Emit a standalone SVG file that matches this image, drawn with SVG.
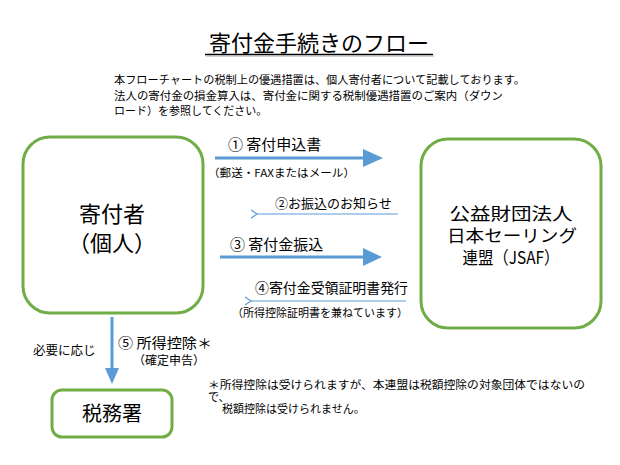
<svg xmlns="http://www.w3.org/2000/svg" width="620" height="465" viewBox="0 0 620 465">
<style>
text{font-family:"Noto Sans CJK JP","Noto Sans",sans-serif;fill:#000}
.box{fill:#fff;stroke:#70ad47;stroke-width:3}
.thick{stroke:#5b9bd5;stroke-width:3;fill:none}
.thin{stroke:#5b9bd5;stroke-width:1;fill:none}
.head{fill:#5b9bd5}
</style>
<defs>
<marker id="open" markerWidth="8" markerHeight="10" refX="1" refY="5" orient="auto-start-reverse" markerUnits="userSpaceOnUse">
<path d="M7,1 L1,5 L7,9" fill="none" stroke="#5b9bd5" stroke-width="1.2"/>
</marker>
</defs>
<rect width="620" height="465" fill="#fff"/>
<g id="title">
<text x="319" y="51" font-size="22" text-anchor="middle">寄付金手続きのフロー</text>
<line x1="205" y1="54.5" x2="433" y2="54.5" stroke="#000" stroke-width="1.3"/>
<line x1="206" y1="56" x2="434" y2="56" stroke="#aaa" stroke-width="1"/>
</g>
<g id="intro" font-size="11">
<text x="114" y="84" textLength="411" lengthAdjust="spacingAndGlyphs">本フローチャートの税制上の優遇措置は、個人寄付者について記載しております。</text>
<text x="114" y="100" textLength="389" lengthAdjust="spacingAndGlyphs">法人の寄付金の損金算入は、寄付金に関する税制優遇措置のご案内（ダウン</text>
<text x="114" y="115">ロード）を参照してください。</text>
</g>
<g id="donor">
<rect class="box" x="23" y="137" width="180" height="176" rx="27"/>
<text x="112" y="222" font-size="22" text-anchor="middle">寄付者</text>
<text x="112" y="251" font-size="22" text-anchor="middle">（個人）</text>
</g>
<g id="jsaf">
<rect class="box" x="421" y="139" width="180" height="189" rx="27"/>
<text x="511" y="220" font-size="17.5" text-anchor="middle" textLength="123" lengthAdjust="spacingAndGlyphs">公益財団法人</text>
<text x="512" y="242" font-size="17.5" text-anchor="middle" textLength="130" lengthAdjust="spacingAndGlyphs">日本セーリング</text>
<text x="511" y="264" font-size="17.5" text-anchor="middle" textLength="97" lengthAdjust="spacingAndGlyphs">連盟（JSAF）</text>
</g>
<g id="taxoffice">
<rect class="box" x="52" y="390" width="120" height="47" rx="10"/>
<text x="112" y="421" font-size="20" text-anchor="middle">税務署</text>
</g>
<g id="connectors">
<line class="thick" x1="215" y1="158" x2="364" y2="158"/>
<polygon class="head" points="363,149 383,158 363,167"/>
<line class="thin" x1="398" y1="214" x2="257" y2="214" marker-end="url(#open)"/>
<line class="thick" x1="220" y1="257" x2="364" y2="257"/>
<polygon class="head" points="363,248 382,257 363,266"/>
<line class="thin" x1="406" y1="301" x2="251" y2="301" marker-end="url(#open)"/>
<line class="thick" x1="112" y1="317" x2="112" y2="369"/>
<polygon class="head" points="105,368 119,368 112,384"/>
</g>
<g id="labels">
<text x="228" y="150" font-size="15">① 寄付申込書</text>
<text x="208" y="177" font-size="11" textLength="147" lengthAdjust="spacingAndGlyphs">（郵送・FAXまたはメール）</text>
<text x="275" y="208" font-size="13">②お振込のお知らせ</text>
<text x="230" y="250" font-size="15">③ 寄付金振込</text>
<text x="255" y="293" font-size="13.5" textLength="153" lengthAdjust="spacingAndGlyphs">④寄付金受領証明書発行</text>
<text x="232" y="317" font-size="11" textLength="176" lengthAdjust="spacingAndGlyphs">（所得控除証明書を兼ねています）</text>
<text x="33" y="355" font-size="12.5">必要に応じ</text>
<text x="118" y="348" font-size="14" textLength="94" lengthAdjust="spacingAndGlyphs">⑤ 所得控除＊</text>
<text x="133" y="365" font-size="12">（確定申告）</text>
</g>
<g id="note" font-size="11">
<text x="208" y="389" textLength="377" lengthAdjust="spacingAndGlyphs">＊所得控除は受けられますが、本連盟は税額控除の対象団体ではないの</text>
<text x="208" y="401">で、</text>
<text x="222" y="413">税額控除は受けられません。</text>
</g>
</svg>
